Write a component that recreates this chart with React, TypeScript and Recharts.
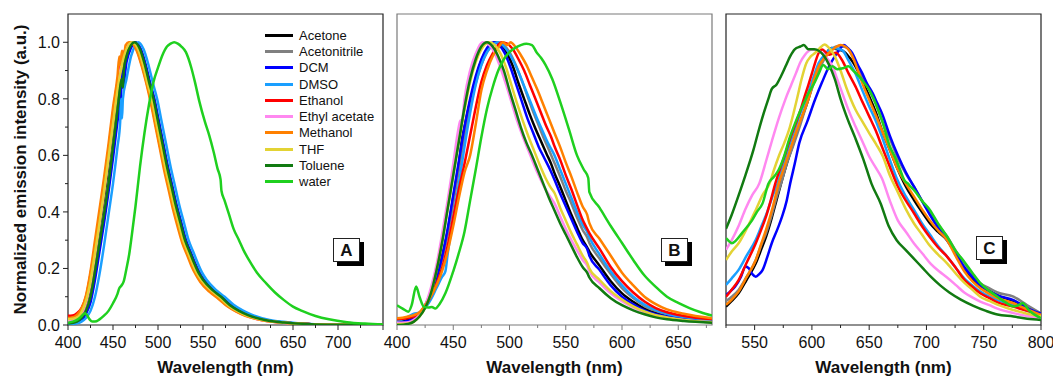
import React from 'react';
import { LineChart, Line, XAxis, YAxis, ReferenceArea, Legend } from 'recharts';

type Pt = [number, number];

const SOLVENTS = ['Acetone', 'Acetonitrile', 'DCM', 'DMSO', 'Ethanol', 'Ethyl acetate', 'Methanol', 'THF', 'Toluene', 'water'];
const COLORS = ['#000000', '#808080', '#0000ff', '#1a9fff', '#ff0000', '#ff88f0', '#ff8000', '#e3d334', '#117a11', '#1fd01f'];

// ---------- Panel A ----------
const A_ACETONE: Pt[] = [[400,0.01],[410,0.016],[415,0.03],[420,0.06],[425,0.115],[430,0.21],[435,0.31],[440,0.42],[445,0.53],[450,0.66],[455,0.79],[460,0.9],[465,0.965],[470,0.995],[474,1.0],[480,0.975],[485,0.925],[490,0.86],[495,0.8],[500,0.72],[505,0.64],[510,0.56],[515,0.49],[520,0.42],[525,0.36],[530,0.3],[535,0.26],[540,0.22],[545,0.185],[550,0.16],[560,0.125],[570,0.1],[580,0.07],[590,0.05],[600,0.035],[620,0.017],[640,0.009],[670,0.003],[700,0.001],[750,0]];
const A_ACETONITRILE: Pt[] = [[400,0.012],[410,0.016],[415,0.028],[420,0.055],[425,0.105],[430,0.195],[435,0.295],[440,0.4],[445,0.51],[450,0.64],[455,0.77],[460,0.88],[465,0.955],[470,0.99],[474,1.0],[480,0.978],[485,0.93],[490,0.865],[495,0.805],[500,0.73],[505,0.65],[510,0.57],[515,0.5],[520,0.43],[525,0.37],[530,0.31],[535,0.265],[540,0.225],[545,0.19],[550,0.163],[560,0.127],[570,0.1],[580,0.07],[590,0.05],[600,0.035],[620,0.017],[640,0.009],[670,0.003],[700,0.001],[750,0]];
const A_DCM: Pt[] = [[400,0.004],[410,0.008],[415,0.018],[420,0.04],[425,0.08],[430,0.16],[435,0.26],[440,0.36],[445,0.47],[450,0.59],[455,0.72],[459,0.82],[460,0.9],[461,0.84],[465,0.93],[470,0.98],[475,1.0],[481,0.975],[486,0.925],[491,0.86],[496,0.8],[501,0.72],[506,0.64],[511,0.56],[516,0.49],[521,0.42],[526,0.36],[531,0.3],[536,0.26],[541,0.22],[546,0.185],[551,0.16],[561,0.125],[571,0.1],[581,0.07],[591,0.05],[601,0.035],[621,0.017],[641,0.009],[671,0.003],[700,0.001],[750,0]];
const A_DMSO: Pt[] = [[400,0.003],[410,0.006],[415,0.012],[420,0.025],[425,0.05],[430,0.1],[435,0.18],[440,0.28],[445,0.39],[450,0.5],[455,0.63],[458,0.72],[459,0.8],[460,0.73],[461,0.8],[465,0.87],[470,0.95],[475,0.99],[478,1.0],[484,0.975],[489,0.925],[494,0.86],[499,0.8],[504,0.72],[509,0.64],[514,0.56],[519,0.49],[524,0.42],[529,0.36],[534,0.3],[539,0.26],[544,0.22],[549,0.185],[554,0.16],[564,0.125],[574,0.1],[584,0.072],[594,0.052],[604,0.037],[624,0.018],[644,0.01],[674,0.003],[700,0.001],[750,0]];
const A_ETHANOL: Pt[] = [[400,0.033],[405,0.034],[410,0.042],[415,0.06],[420,0.1],[425,0.18],[430,0.28],[435,0.39],[440,0.5],[445,0.62],[450,0.75],[455,0.86],[460,0.94],[465,0.985],[469,1.0],[474,0.99],[478,0.96],[483,0.91],[488,0.85],[493,0.78],[498,0.7],[503,0.62],[508,0.545],[513,0.475],[518,0.405],[523,0.345],[528,0.29],[533,0.25],[538,0.21],[543,0.178],[548,0.152],[558,0.118],[568,0.094],[578,0.066],[588,0.047],[598,0.033],[618,0.016],[640,0.008],[670,0.003],[700,0.001],[750,0]];
const A_ETHYL_ACETATE: Pt[] = [[400,0.015],[410,0.022],[415,0.04],[420,0.08],[425,0.15],[430,0.25],[435,0.36],[440,0.47],[445,0.59],[450,0.72],[455,0.84],[460,0.93],[465,0.98],[471,1.0],[477,0.975],[482,0.925],[487,0.86],[492,0.8],[497,0.72],[502,0.64],[507,0.56],[512,0.49],[517,0.42],[522,0.36],[527,0.3],[532,0.26],[537,0.22],[542,0.185],[547,0.16],[557,0.125],[567,0.098],[577,0.068],[587,0.048],[597,0.033],[617,0.016],[637,0.008],[667,0.003],[700,0.001],[750,0]];
const A_METHANOL: Pt[] = [[400,0.025],[405,0.027],[410,0.036],[415,0.058],[420,0.105],[425,0.19],[430,0.3],[435,0.41],[440,0.52],[445,0.64],[450,0.77],[455,0.88],[457,0.95],[458,0.92],[460,0.97],[462,0.94],[464,0.99],[468,1.0],[472,0.995],[477,0.965],[482,0.915],[487,0.855],[492,0.785],[497,0.705],[502,0.625],[507,0.545],[512,0.475],[517,0.405],[522,0.345],[527,0.29],[532,0.25],[537,0.21],[542,0.178],[547,0.152],[557,0.118],[567,0.093],[577,0.066],[587,0.047],[597,0.032],[617,0.016],[640,0.008],[670,0.003],[700,0.001],[750,0]];
const A_THF: Pt[] = [[400,0.02],[410,0.026],[415,0.045],[420,0.085],[425,0.155],[430,0.255],[435,0.36],[440,0.47],[445,0.59],[450,0.71],[455,0.83],[460,0.92],[465,0.975],[471,1.0],[478,0.975],[483,0.925],[488,0.86],[493,0.8],[498,0.72],[503,0.64],[508,0.56],[513,0.49],[518,0.42],[523,0.36],[528,0.3],[533,0.26],[538,0.22],[543,0.185],[548,0.16],[558,0.125],[568,0.1],[578,0.07],[588,0.05],[598,0.034],[618,0.017],[638,0.009],[668,0.003],[700,0.001],[750,0]];
const A_TOLUENE: Pt[] = [[400,0.005],[410,0.012],[415,0.025],[420,0.05],[425,0.1],[430,0.19],[435,0.29],[440,0.39],[445,0.5],[450,0.63],[455,0.76],[460,0.87],[461,0.84],[462,0.9],[465,0.95],[470,0.99],[474,1.0],[480,0.975],[485,0.925],[490,0.86],[495,0.8],[500,0.72],[505,0.64],[510,0.56],[515,0.49],[520,0.42],[525,0.36],[530,0.3],[535,0.26],[540,0.22],[545,0.185],[550,0.16],[560,0.125],[570,0.1],[580,0.07],[590,0.05],[600,0.035],[620,0.017],[640,0.009],[670,0.003],[700,0.001],[750,0]];
const A_WATER: Pt[] = [[400,0.008],[405,0.012],[410,0.018],[414,0.028],[417,0.038],[419,0.042],[421,0.035],[424,0.02],[427,0.012],[430,0.012],[435,0.02],[440,0.033],[445,0.05],[450,0.077],[455,0.11],[457,0.13],[459,0.138],[462,0.155],[465,0.2],[468,0.25],[471,0.32],[475,0.42],[480,0.56],[485,0.68],[490,0.78],[495,0.86],[500,0.91],[505,0.955],[510,0.985],[514,0.995],[518,1.0],[522,0.995],[526,0.985],[531,0.965],[537,0.91],[541,0.86],[546,0.79],[552,0.72],[557,0.67],[562,0.61],[566,0.555],[569.5,0.515],[570.5,0.475],[574,0.44],[579,0.39],[584,0.34],[590,0.3],[595,0.265],[601,0.23],[610,0.185],[620,0.148],[630,0.115],[640,0.088],[650,0.065],[660,0.05],[675,0.032],[690,0.02],[710,0.01],[730,0.005],[750,0.002]];

// ---------- Panel B ----------
const B_ACETONE: Pt[] = [[400,0.012],[405,0.014],[410,0.018],[415,0.025],[420,0.04],[425,0.07],[430,0.115],[435,0.17],[440,0.24],[445,0.33],[450,0.45],[455,0.57],[458,0.66],[460,0.7],[465,0.79],[470,0.87],[475,0.935],[480,0.975],[488,1.0],[493,0.99],[498,0.96],[503,0.915],[508,0.855],[513,0.8],[518,0.745],[523,0.695],[528,0.65],[533,0.605],[537,0.57],[540,0.537],[545,0.49],[550,0.44],[555,0.39],[560,0.345],[565,0.301],[569,0.275],[571,0.26],[580,0.21],[590,0.155],[600,0.112],[610,0.082],[620,0.058],[630,0.043],[640,0.033],[655,0.024],[680,0.015]];
const B_ACETONITRILE: Pt[] = [[400,0.005],[410,0.01],[415,0.018],[420,0.035],[425,0.065],[430,0.105],[435,0.16],[440,0.23],[445,0.32],[450,0.43],[455,0.55],[460,0.67],[465,0.77],[470,0.855],[475,0.92],[480,0.965],[485,0.99],[490,1.0],[495,0.99],[500,0.965],[505,0.925],[510,0.875],[515,0.82],[520,0.765],[525,0.715],[530,0.665],[535,0.62],[540,0.573],[545,0.525],[550,0.475],[555,0.43],[560,0.38],[565,0.336],[569,0.31],[571,0.29],[580,0.235],[590,0.18],[600,0.13],[610,0.095],[620,0.067],[630,0.05],[640,0.038],[655,0.027],[680,0.017]];
const B_DCM: Pt[] = [[400,0.008],[405,0.01],[410,0.015],[415,0.022],[420,0.035],[425,0.065],[430,0.11],[435,0.165],[440,0.24],[445,0.34],[450,0.46],[455,0.58],[460,0.7],[465,0.8],[470,0.88],[475,0.94],[480,0.98],[486,1.0],[491,0.99],[496,0.96],[501,0.91],[506,0.85],[511,0.79],[516,0.73],[521,0.68],[526,0.63],[531,0.59],[536,0.55],[540,0.514],[545,0.465],[550,0.42],[555,0.375],[560,0.33],[565,0.29],[569,0.27],[571,0.245],[580,0.195],[590,0.14],[600,0.1],[610,0.073],[620,0.052],[630,0.038],[640,0.03],[655,0.022],[680,0.014]];
const B_DMSO: Pt[] = [[400,0.015],[405,0.02],[410,0.03],[415,0.04],[420,0.045],[425,0.06],[430,0.09],[435,0.13],[440,0.17],[443,0.19],[445,0.25],[450,0.38],[455,0.5],[460,0.63],[465,0.75],[470,0.85],[475,0.92],[480,0.965],[485,0.99],[489,1.0],[494,0.99],[499,0.965],[504,0.93],[509,0.885],[514,0.835],[519,0.785],[524,0.735],[529,0.69],[534,0.645],[540,0.6],[545,0.55],[550,0.5],[555,0.45],[560,0.4],[565,0.355],[569,0.33],[571,0.31],[580,0.25],[590,0.19],[600,0.14],[610,0.1],[620,0.072],[630,0.053],[640,0.04],[655,0.028],[680,0.018]];
const B_ETHANOL: Pt[] = [[400,0.02],[405,0.022],[410,0.025],[415,0.03],[420,0.04],[425,0.065],[430,0.1],[435,0.145],[440,0.2],[445,0.28],[450,0.38],[455,0.48],[460,0.57],[465,0.67],[470,0.77],[475,0.86],[480,0.92],[485,0.96],[489,0.985],[493,1.0],[498,0.995],[503,0.975],[508,0.94],[513,0.9],[518,0.85],[523,0.8],[528,0.75],[533,0.7],[537,0.665],[540,0.632],[545,0.585],[550,0.53],[555,0.48],[560,0.425],[565,0.372],[569,0.34],[571,0.325],[580,0.27],[590,0.205],[600,0.155],[610,0.115],[620,0.083],[630,0.06],[640,0.045],[655,0.032],[680,0.02]];
const B_ETHYL_ACETATE: Pt[] = [[400,0.008],[410,0.01],[415,0.018],[420,0.035],[425,0.07],[430,0.13],[435,0.21],[440,0.32],[445,0.44],[450,0.57],[454,0.68],[456,0.72],[458,0.73],[460,0.8],[465,0.9],[470,0.96],[476,1.0],[482,0.99],[487,0.96],[492,0.91],[497,0.85],[502,0.785],[507,0.72],[512,0.665],[517,0.615],[522,0.565],[527,0.52],[532,0.48],[536,0.455],[540,0.43],[545,0.385],[550,0.34],[555,0.3],[560,0.265],[565,0.23],[569,0.21],[571,0.19],[580,0.15],[590,0.112],[600,0.084],[610,0.062],[620,0.045],[630,0.033],[640,0.025],[655,0.017],[680,0.01]];
const B_METHANOL: Pt[] = [[400,0.024],[405,0.026],[410,0.03],[415,0.035],[420,0.045],[425,0.07],[430,0.1],[435,0.14],[440,0.19],[445,0.26],[450,0.35],[455,0.45],[460,0.54],[465,0.6],[470,0.71],[475,0.83],[480,0.9],[485,0.95],[490,0.98],[494,1.0],[498,0.99],[501,1.0],[505,0.985],[510,0.955],[515,0.92],[520,0.875],[525,0.83],[530,0.78],[535,0.73],[540,0.679],[545,0.63],[550,0.575],[555,0.525],[560,0.47],[565,0.419],[569,0.39],[571,0.36],[580,0.305],[590,0.245],[600,0.185],[610,0.14],[620,0.1],[630,0.074],[640,0.055],[655,0.04],[680,0.024]];
const B_THF: Pt[] = [[400,0.003],[410,0.005],[415,0.012],[420,0.03],[425,0.06],[430,0.11],[435,0.19],[440,0.29],[445,0.41],[450,0.53],[455,0.65],[460,0.76],[465,0.86],[470,0.93],[475,0.975],[482,1.0],[487,0.99],[492,0.96],[497,0.91],[502,0.845],[507,0.78],[512,0.72],[517,0.665],[522,0.615],[527,0.565],[532,0.52],[536,0.49],[540,0.467],[545,0.415],[550,0.37],[555,0.325],[560,0.285],[565,0.245],[569,0.22],[571,0.2],[580,0.16],[590,0.12],[600,0.09],[610,0.066],[620,0.048],[630,0.035],[640,0.027],[655,0.018],[680,0.01]];
const B_TOLUENE: Pt[] = [[400,0],[410,0.004],[415,0.012],[420,0.03],[425,0.06],[430,0.11],[435,0.19],[440,0.29],[445,0.41],[450,0.53],[455,0.65],[460,0.77],[465,0.87],[470,0.94],[475,0.985],[480,1.0],[485,0.985],[490,0.95],[495,0.9],[500,0.83],[505,0.765],[510,0.7],[515,0.645],[520,0.6],[525,0.55],[530,0.5],[535,0.45],[540,0.405],[545,0.36],[550,0.32],[555,0.28],[560,0.24],[565,0.205],[569,0.185],[571,0.168],[580,0.13],[590,0.095],[600,0.07],[610,0.052],[620,0.038],[630,0.027],[640,0.02],[655,0.014],[680,0.008]];
const B_WATER: Pt[] = [[400,0.07],[405,0.058],[410,0.047],[413,0.07],[417,0.136],[420,0.1],[424,0.064],[428,0.062],[431,0.064],[434,0.058],[438,0.075],[443,0.112],[450,0.19],[455,0.255],[460,0.33],[465,0.44],[470,0.55],[475,0.665],[480,0.765],[485,0.84],[490,0.9],[495,0.94],[500,0.965],[505,0.98],[510,0.99],[515,0.995],[520,0.99],[524,0.965],[528,0.945],[532,0.92],[538,0.87],[545,0.79],[553,0.69],[560,0.6],[566,0.55],[570,0.52],[571,0.47],[580,0.415],[590,0.35],[600,0.29],[610,0.23],[620,0.175],[630,0.135],[640,0.1],[650,0.078],[660,0.06],[670,0.045],[680,0.033]];

// ---------- Panel C ----------
const C_ACETONE: Pt[] = [[525,0.065],[530,0.085],[536,0.112],[543,0.16],[551,0.218],[556,0.27],[560,0.313],[565,0.38],[569,0.44],[573,0.5],[578,0.57],[584,0.644],[590,0.72],[597,0.8],[602,0.87],[606,0.915],[611,0.95],[617,0.98],[622,0.975],[627,0.97],[633,0.945],[638,0.915],[644,0.865],[650,0.809],[656,0.75],[661,0.69],[668,0.62],[675,0.55],[682,0.49],[689,0.443],[696,0.4],[703,0.36],[710,0.33],[718,0.3],[726,0.25],[733,0.2],[740,0.165],[747,0.14],[755,0.12],[762,0.105],[776,0.085],[788,0.06],[800,0.038]];
const C_ACETONITRILE: Pt[] = [[525,0.085],[530,0.1],[536,0.124],[543,0.17],[551,0.23],[556,0.285],[560,0.325],[565,0.39],[569,0.45],[573,0.5],[578,0.57],[584,0.638],[590,0.71],[597,0.8],[603,0.87],[609,0.927],[615,0.965],[622,0.986],[627,0.985],[631,0.98],[635,0.955],[638,0.927],[644,0.88],[650,0.832],[656,0.78],[661,0.726],[668,0.66],[675,0.59],[682,0.535],[689,0.49],[696,0.44],[703,0.395],[710,0.355],[718,0.313],[726,0.26],[733,0.22],[740,0.18],[747,0.148],[755,0.13],[762,0.115],[776,0.1],[788,0.07],[800,0.041]];
const C_DCM: Pt[] = [[525,0.106],[529,0.12],[533,0.136],[538,0.17],[542,0.207],[545,0.2],[548,0.18],[551,0.171],[554,0.18],[557,0.195],[561,0.24],[565,0.29],[570,0.34],[574,0.384],[578,0.44],[581,0.5],[585,0.57],[589,0.644],[596,0.72],[603,0.8],[609,0.86],[615,0.915],[620,0.95],[624,0.974],[628,0.99],[631,0.98],[635,0.963],[640,0.92],[644,0.89],[648,0.855],[653,0.82],[657,0.785],[661,0.75],[668,0.67],[675,0.6],[682,0.54],[689,0.49],[696,0.44],[703,0.39],[710,0.345],[718,0.3],[726,0.25],[733,0.205],[740,0.17],[747,0.14],[755,0.12],[762,0.105],[776,0.088],[788,0.06],[800,0.04]];
const C_DMSO: Pt[] = [[525,0.142],[530,0.165],[536,0.195],[543,0.245],[551,0.301],[556,0.35],[561,0.4],[566,0.46],[570,0.5],[575,0.565],[580,0.632],[585,0.69],[590,0.75],[595,0.8],[600,0.86],[606,0.927],[612,0.96],[618,0.98],[622,0.978],[627,0.97],[632,0.935],[638,0.89],[644,0.83],[650,0.773],[656,0.72],[661,0.667],[668,0.585],[675,0.51],[682,0.455],[689,0.408],[696,0.36],[703,0.32],[710,0.28],[718,0.242],[726,0.2],[733,0.165],[740,0.14],[747,0.118],[755,0.1],[762,0.088],[776,0.07],[788,0.05],[800,0.035]];
const C_ETHANOL: Pt[] = [[525,0.1],[530,0.125],[536,0.159],[543,0.22],[551,0.289],[556,0.34],[560,0.384],[564,0.44],[568,0.5],[572,0.55],[577,0.608],[581,0.66],[586,0.714],[590,0.76],[593,0.8],[597,0.85],[600,0.89],[603,0.93],[606,0.963],[609,0.974],[612,0.965],[615,0.956],[618,0.96],[621,0.963],[626,0.939],[632,0.89],[638,0.844],[644,0.79],[650,0.738],[656,0.685],[661,0.632],[668,0.56],[675,0.49],[682,0.44],[689,0.396],[696,0.35],[703,0.31],[710,0.275],[718,0.242],[726,0.2],[733,0.16],[740,0.135],[747,0.112],[755,0.095],[762,0.08],[776,0.065],[788,0.05],[800,0.035]];
const C_ETHYL_ACETATE: Pt[] = [[525,0.266],[530,0.3],[536,0.35],[542,0.41],[548,0.46],[554,0.5],[560,0.58],[565,0.65],[571,0.73],[577,0.8],[582,0.85],[586,0.89],[590,0.93],[594,0.956],[600,0.974],[605,0.97],[609,0.963],[614,0.94],[618,0.915],[622,0.87],[627,0.815],[632,0.76],[638,0.703],[644,0.65],[650,0.596],[656,0.555],[661,0.52],[668,0.44],[675,0.37],[682,0.33],[689,0.289],[697,0.25],[704,0.215],[711,0.19],[718,0.168],[726,0.14],[733,0.115],[740,0.098],[747,0.083],[755,0.07],[762,0.058],[776,0.042],[788,0.032],[800,0.025]];
const C_METHANOL: Pt[] = [[525,0.071],[530,0.09],[536,0.118],[543,0.17],[551,0.23],[556,0.29],[560,0.337],[566,0.42],[571,0.5],[576,0.56],[580,0.608],[586,0.68],[592,0.745],[597,0.8],[602,0.87],[606,0.915],[611,0.945],[615,0.963],[620,0.98],[625,0.99],[629,0.985],[632,0.974],[637,0.935],[641,0.89],[645,0.845],[650,0.797],[656,0.74],[661,0.69],[668,0.62],[675,0.55],[682,0.5],[689,0.455],[696,0.41],[703,0.37],[710,0.335],[718,0.3],[726,0.24],[733,0.19],[740,0.155],[747,0.13],[755,0.11],[762,0.095],[776,0.077],[788,0.055],[800,0.035]];
const C_THF: Pt[] = [[525,0.23],[530,0.26],[536,0.289],[543,0.34],[551,0.407],[557,0.46],[563,0.5],[567,0.55],[571,0.596],[576,0.645],[580,0.69],[584,0.75],[587,0.8],[591,0.87],[595,0.925],[599,0.95],[603,0.963],[607,0.98],[611,0.992],[615,0.98],[620,0.95],[625,0.9],[630,0.84],[638,0.762],[644,0.72],[650,0.679],[656,0.64],[662,0.596],[668,0.53],[675,0.47],[682,0.41],[689,0.36],[696,0.32],[703,0.28],[710,0.25],[718,0.218],[726,0.18],[733,0.15],[740,0.125],[747,0.1],[755,0.085],[762,0.072],[776,0.053],[788,0.04],[800,0.03]];
const C_TOLUENE: Pt[] = [[525,0.34],[530,0.39],[537,0.47],[542,0.53],[549,0.62],[553,0.68],[558,0.75],[562,0.8],[565,0.835],[569,0.85],[573,0.88],[577,0.915],[581,0.95],[585,0.975],[590,0.985],[593,0.99],[597,0.975],[602,0.975],[606,0.97],[610,0.955],[615,0.92],[620,0.87],[625,0.8],[631,0.73],[638,0.66],[645,0.585],[652,0.5],[660,0.43],[667,0.35],[674,0.3],[682,0.265],[689,0.235],[697,0.2],[704,0.17],[712,0.14],[720,0.115],[730,0.09],[741,0.068],[752,0.05],[762,0.037],[776,0.03],[788,0.022],[800,0.018]];
const C_WATER: Pt[] = [[525,0.307],[528,0.295],[530,0.289],[534,0.3],[539,0.325],[544,0.35],[548,0.372],[552,0.4],[557,0.431],[562,0.5],[567,0.525],[571,0.549],[576,0.6],[580,0.655],[584,0.7],[589,0.75],[593,0.785],[597,0.82],[602,0.855],[606,0.89],[610,0.92],[614,0.905],[618,0.915],[622,0.905],[627,0.908],[632,0.915],[636,0.9],[641,0.88],[645,0.86],[650,0.832],[656,0.78],[661,0.726],[668,0.632],[673,0.59],[677,0.549],[681,0.51],[684,0.5],[686,0.49],[689,0.478],[696,0.44],[703,0.407],[710,0.36],[718,0.313],[725,0.265],[733,0.224],[740,0.185],[747,0.148],[755,0.12],[762,0.1],[769,0.08],[776,0.065],[780,0.07],[784,0.077],[790,0.05],[800,0.024]];

const A_SERIES: Pt[][] = [A_ACETONE, A_ACETONITRILE, A_DCM, A_DMSO, A_ETHANOL, A_ETHYL_ACETATE, A_METHANOL, A_THF, A_TOLUENE, A_WATER];
const B_SERIES: Pt[][] = [B_ACETONE, B_ACETONITRILE, B_DCM, B_DMSO, B_ETHANOL, B_ETHYL_ACETATE, B_METHANOL, B_THF, B_TOLUENE, B_WATER];
const C_SERIES: Pt[][] = [C_ACETONE, C_ACETONITRILE, C_DCM, C_DMSO, C_ETHANOL, C_ETHYL_ACETATE, C_METHANOL, C_THF, C_TOLUENE, C_WATER];

const A_X_TICKS = [400, 425, 450, 475, 500, 525, 550, 575, 600, 625, 650, 675, 700, 725, 750];
const B_X_TICKS = [400, 425, 450, 475, 500, 525, 550, 575, 600, 625, 650, 675];
const C_X_TICKS = [525, 550, 575, 600, 625, 650, 675, 700, 725, 750, 775, 800];
const Y_TICKS = [0, 0.1, 0.2, 0.3, 0.4, 0.5, 0.6, 0.7, 0.8, 0.9, 1.0];
const Y_DOMAIN: [number, number] = [0, 1.1];

const FONT = 'Arial, "Liberation Sans", Helvetica, sans-serif';

type Panel = {
  key: string;
  series: Pt[][];
  domain: [number, number];
  ticks: number[];
  labelMax: number;
  frame: string;
  left: number;
  yWidth: number;
  plotWidth: number;
  showY: boolean;
  letter: string;
  box: { left: number; top: number };
};

const PANELS: Panel[] = [
  { key: 'A', series: A_SERIES, domain: [400, 750], ticks: A_X_TICKS, labelMax: 700, frame: '#222222', left: 0, yWidth: 68, plotWidth: 315, showY: true, letter: 'A', box: { left: 333, top: 238 } },
  { key: 'B', series: B_SERIES, domain: [400, 680], ticks: B_X_TICKS, labelMax: 650, frame: '#7a7a7a', left: 377, yWidth: 20, plotWidth: 315, showY: false, letter: 'B', box: { left: 661, top: 238 } },
  { key: 'C', series: C_SERIES, domain: [525, 800], ticks: C_X_TICKS, labelMax: 800, frame: '#222222', left: 706, yWidth: 20, plotWidth: 315, showY: false, letter: 'C', box: { left: 976, top: 236 } },
];

const toObj = (pts: Pt[]) => pts.map(([x, y]) => ({ x, y }));

function makeXTick(labelMax: number, color: string) {
  return (props: any) => {
    const { x, y, payload } = props;
    const v = payload.value as number;
    const major = v % 50 === 0;
    const show = major && v <= labelMax;
    return (
      <g>
        <line x1={x} x2={x} y1={y} y2={y + (major ? 5 : 3)} stroke={color} strokeWidth={1} />
        {show && (
          <text x={x} y={y + 23} textAnchor="middle" fontSize={16} fontFamily={FONT} fill="#111">{v}</text>
        )}
      </g>
    );
  };
}

function YTick(props: any) {
  const { x, y, payload } = props;
  const v = payload.value as number;
  const major = Math.round(v * 10) % 2 === 0;
  return (
    <g>
      <line x1={x} x2={x - (major ? 5 : 3)} y1={y} y2={y} stroke="#222" strokeWidth={1} />
      {major && (
        <text x={x - 8} y={y + 5.7} textAnchor="end" fontSize={16} fontFamily={FONT} fill="#111">{v.toFixed(1)}</text>
      )}
    </g>
  );
}

const xLabel = (p: any) => {
  const vb = p.viewBox || {};
  const cx = (vb.x ?? 0) + (vb.width ?? 0) / 2;
  const y = (vb.y ?? 325) + 48;
  return (
    <text x={cx} y={y} textAnchor="middle" fontSize={17} fontWeight="bold" fontFamily={FONT} fill="#111">Wavelength (nm)</text>
  );
};

const yLabel = (p: any) => {
  const vb = p.viewBox || {};
  const cx = 20;
  const cy = (vb.y ?? 14) + (vb.height ?? 311) / 2;
  return (
    <text x={cx} y={cy} transform={`rotate(-90, ${cx}, ${cy})`} textAnchor="middle" dominantBaseline="central" fontSize={17} fontWeight="bold" fontFamily={FONT} fill="#111">
      Normalized emission intensity (a.u.)
    </text>
  );
};

function LegendBox() {
  return (
    <div style={{ fontFamily: FONT, fontSize: 13, color: '#111' }}>
      {SOLVENTS.map((s, i) => (
        <div key={s} style={{ display: 'flex', alignItems: 'center', height: 16.3, whiteSpace: 'nowrap' }}>
          <div style={{ width: 28, height: 3, background: COLORS[i], marginRight: 6 }} />
          <span>{s}</span>
        </div>
      ))}
    </div>
  );
}

function PanelChart({ p }: { p: Panel }) {
  const width = p.yWidth + p.plotWidth + 12;
  return (
    <div style={{ position: 'absolute', left: p.left, top: 0, width, height: 378 }}>
      <LineChart width={width} height={378} margin={{ top: 14, right: 12, bottom: 0, left: 0 }}>
        <XAxis
          dataKey="x"
          type="number"
          domain={p.domain}
          ticks={p.ticks}
          interval={0}
          allowDataOverflow
          axisLine={false}
          tickLine={false}
          tickSize={0}
          tickMargin={0}
          height={53}
          tick={makeXTick(p.labelMax, p.frame)}
          label={{ content: xLabel }}
        />
        <YAxis
          type="number"
          domain={Y_DOMAIN}
          ticks={p.showY ? Y_TICKS : []}
          interval={0}
          allowDataOverflow
          axisLine={false}
          tickLine={false}
          tickSize={0}
          tickMargin={0}
          width={p.yWidth}
          tick={p.showY ? YTick : false}
          label={p.showY ? { content: yLabel } : undefined}
        />
        <ReferenceArea x1={p.domain[0]} x2={p.domain[1]} y1={Y_DOMAIN[0]} y2={Y_DOMAIN[1]} fill="none" fillOpacity={0} stroke={p.frame} strokeWidth={1.2} ifOverflow="visible" />
        {p.series.map((pts, i) => (
          <Line
            key={SOLVENTS[i]}
            data={toObj(pts)}
            dataKey="y"
            name={SOLVENTS[i]}
            type="monotone"
            stroke={COLORS[i]}
            strokeWidth={2.5}
            dot={false}
            activeDot={false}
            isAnimationActive={false}
          />
        ))}
        {p.showY && (
          <Legend
            layout="vertical"
            align="center"
            verticalAlign="middle"
            wrapperStyle={{ left: 265, top: 27, width: 120, height: 165 }}
            content={() => <LegendBox />}
          />
        )}
      </LineChart>
    </div>
  );
}

function LetterBox({ letter, left, top }: { letter: string; left: number; top: number }) {
  return (
    <div style={{
      position: 'absolute', left, top, width: 25, height: 22, border: '1px solid #222', background: '#fff',
      boxShadow: '4px 4px 0 #000', fontFamily: FONT, fontWeight: 'bold', fontSize: 17, color: '#111',
      display: 'flex', alignItems: 'center', justifyContent: 'center', lineHeight: 1,
    }}>{letter}</div>
  );
}

export default function App() {
  return (
    <div style={{ position: 'absolute', left: 0, top: 0, width: 1056, height: 378, background: '#fff', overflow: 'hidden' }}>
      {PANELS.map((p) => (
        <PanelChart key={p.key} p={p} />
      ))}
      {PANELS.map((p) => (
        <LetterBox key={'b' + p.key} letter={p.letter} left={p.box.left} top={p.box.top} />
      ))}
    </div>
  );
}
